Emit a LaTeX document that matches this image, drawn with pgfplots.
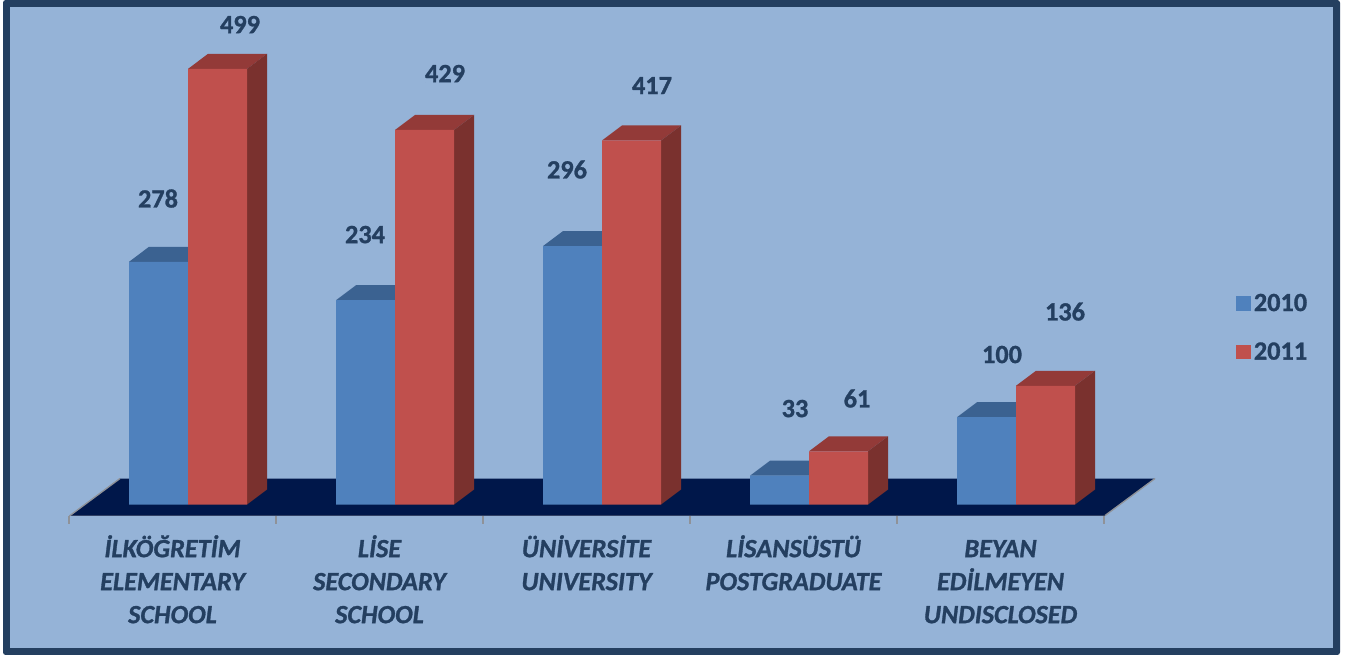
\documentclass[border=0pt]{standalone}
\usepackage{pgfplots}
\pgfplotsset{compat=1.18}
\usepackage{fontspec}
\setmainfont{Carlito}[BoldFont={Carlito Bold},BoldItalicFont={Carlito Bold Italic},BoldFeatures={FakeBold=1.1},BoldItalicFeatures={FakeBold=1.1}]
\definecolor{bgc}{HTML}{95B3D7}
\definecolor{framec}{HTML}{243F60}
\definecolor{txt}{HTML}{243F60}
\definecolor{blueF}{HTML}{4F81BD}
\definecolor{blueT}{HTML}{3B6291}
\definecolor{redF}{HTML}{C0504D}
\definecolor{redT}{HTML}{933A38}
\definecolor{redS}{HTML}{7A312E}
\definecolor{floorc}{HTML}{00174A}
\definecolor{edgec}{HTML}{8F9298}
\newcommand{\lab}{\fontsize{19.7pt}{24.75pt}\selectfont\bfseries\color{txt}}
\pgfplotsset{
  top/.style={fill=#1,draw=none,forget plot},
  front/.style={ybar,bar width=44.25pt,bar shift=0pt,fill=#1,draw=none},
}
\begin{document}
\begin{tikzpicture}
\begin{scope}[x=0.75pt,y=0.75pt]
\fill[white] (0,0) rectangle (1345,655);
\fill[framec,rounded corners=2pt] (3,0) rectangle (1340,655);
\fill[bgc] (10,7) rectangle (1333,648);
\end{scope}
\begin{axis}[
  at={(51.75pt,104.6pt)},anchor=south west,
  scale only axis,width=777pt,height=386.25pt,
  xmin=69,xmax=1105,ymin=-12.6,ymax=577.3,
  clip=false,
  axis x line=bottom,axis y line=none,
  axis line style={-,draw=edgec,line width=1.2pt},
  xtick={69,276,483,690,897,1104},xticklabels={},
  tick align=outside,major tick length=6pt,
  tick style={draw=edgec,line width=1pt},
  extra x ticks={172.5,379.5,586.5,793.5,1000.5},
  extra x tick labels={{İLKÖĞRETİM\\ELEMENTARY\\SCHOOL},{LİSE\\SECONDARY\\SCHOOL},{ÜNİVERSİTE\\UNIVERSITY},{LİSANSÜSTÜ\\POSTGRADUATE},{\vphantom{İ}BEYAN\\EDİLMEYEN\\UNDISCLOSED}},
  extra x tick style={major tick length=0pt,
    xticklabel style={align=center,anchor=north,yshift=-11.25pt,font=\lab\itshape,text=txt}},
  legend style={at={(axis cs:1273,202.5)},anchor=center,draw=none,fill=none,
    font=\lab,row sep=18pt,inner sep=0pt,/tikz/every even column/.append style={column sep=7pt}},
  legend cell align=left,
  legend image code/.code={\fill[#1] (0pt,-5.6pt) rectangle (11.25pt,5.6pt);},
]
% floor
\addplot[fill=floorc,draw=none,forget plot] coordinates {(70,-12.6) (1105,-12.6) (1155,29.8) (120,29.8)} --cycle;
\addplot[draw=edgec,line width=1pt,forget plot] coordinates {(70,-12.6) (120,29.8)};
\addplot[draw=edgec,line width=1pt,forget plot] coordinates {(1105,-12.6) (1155,29.8)};
% blue tops
\addplot[top=blueT] coordinates {(129,278) (188,278) (208,295.2) (149,295.2)} --cycle;
\addplot[top=blueT] coordinates {(336,234) (395,234) (415,251.2) (356,251.2)} --cycle;
\addplot[top=blueT] coordinates {(543,296) (602,296) (622,313.2) (563,313.2)} --cycle;
\addplot[top=blueT] coordinates {(750,33) (809,33) (829,50.2) (770,50.2)} --cycle;
\addplot[top=blueT] coordinates {(957,100) (1016,100) (1036,117.2) (977,117.2)} --cycle;
% front faces
\addplot[front=blueF,fill=blueF] coordinates {(158.5,278) (365.5,234) (572.5,296) (779.5,33) (986.5,100)};
\addlegendentry{2010}
% red tops
\addplot[top=redT] coordinates {(188,499) (247,499) (267,516.2) (208,516.2)} --cycle;
\addplot[top=redT] coordinates {(395,429) (454,429) (474,446.2) (415,446.2)} --cycle;
\addplot[top=redT] coordinates {(602,417) (661,417) (681,434.2) (622,434.2)} --cycle;
\addplot[top=redT] coordinates {(809,61) (868,61) (888,78.2) (829,78.2)} --cycle;
\addplot[top=redT] coordinates {(1016,136) (1075,136) (1095,153.2) (1036,153.2)} --cycle;
% red sides
\addplot[top=redS] coordinates {(247,0) (247,499) (267,516.2) (267,17.2)} --cycle;
\addplot[top=redS] coordinates {(454,0) (454,429) (474,446.2) (474,17.2)} --cycle;
\addplot[top=redS] coordinates {(661,0) (661,417) (681,434.2) (681,17.2)} --cycle;
\addplot[top=redS] coordinates {(868,0) (868,61) (888,78.2) (888,17.2)} --cycle;
\addplot[top=redS] coordinates {(1075,0) (1075,136) (1095,153.2) (1095,17.2)} --cycle;
\addplot[front=redF,fill=redF] coordinates {(217.5,499) (424.5,429) (631.5,417) (838.5,61) (1045.5,136)};
\addlegendentry{2011}
% value labels
\node[font=\lab] at (axis cs:240,549.8) {499};
\node[font=\lab] at (axis cs:158,350.5) {278};
\node[font=\lab] at (axis cs:445,493.7) {429};
\node[font=\lab] at (axis cs:365,309.2) {234};
\node[font=\lab] at (axis cs:652,479.9) {417};
\node[font=\lab] at (axis cs:567,383.7) {296};
\node[font=\lab] at (axis cs:857,121.4) {61};
\node[font=\lab] at (axis cs:795,109.9) {33};
\node[font=\lab] at (axis cs:1065,221) {136};
\node[font=\lab] at (axis cs:1002,171.8) {100};
\end{axis}
\end{tikzpicture}
\end{document}
